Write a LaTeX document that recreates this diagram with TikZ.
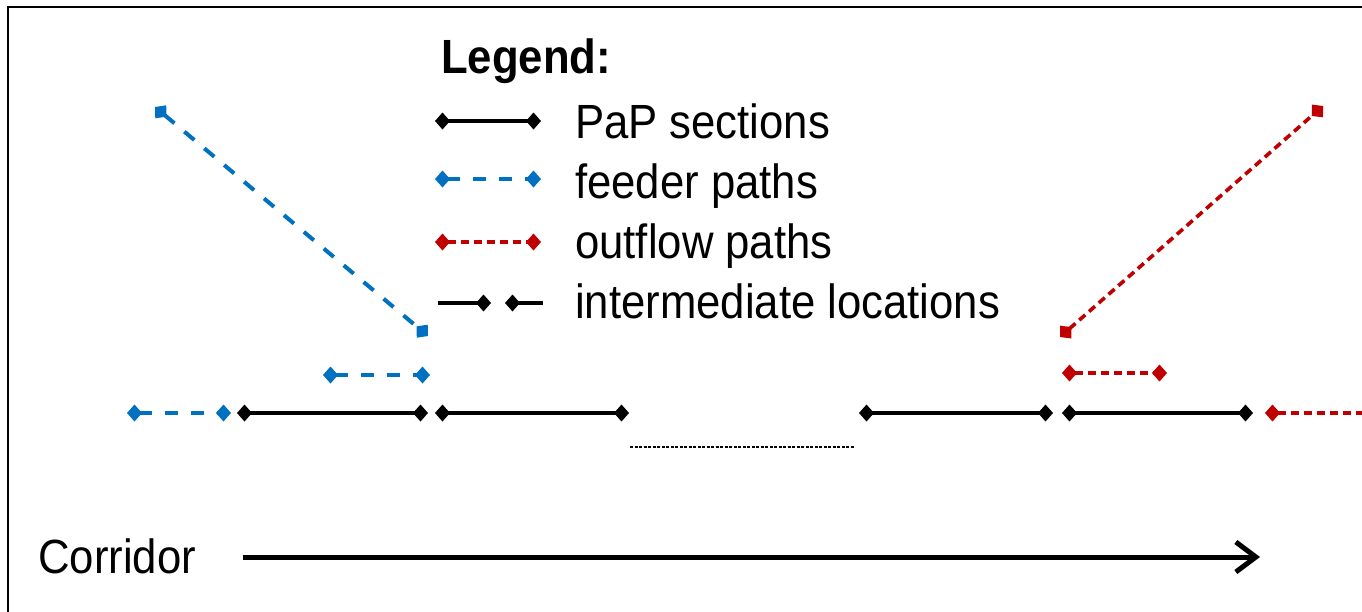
\documentclass[tikz,border=0pt]{standalone}
\usepackage{fontspec}
\setmainfont[FakeStretch=0.91]{Liberation Sans}
\usetikzlibrary{arrows.meta}
\definecolor{feederblue}{RGB}{0,112,192}
\definecolor{outflowred}{RGB}{192,0,0}
\tikzset{
  dtip/.tip={Diamond[length=15pt,width=17pt]},
  pap/.style={line width=3.6pt, draw=black},
  feeder/.style={line width=4pt, draw=feederblue, dash pattern=on 13pt off 13pt},
  outflow/.style={line width=3.6pt, draw=outflowred, dash pattern=on 8pt off 5pt},
  both/.style={{dtip}-{dtip}},
  lbl/.style={inner sep=0pt, anchor=base west, font=\fontsize{48}{58}\selectfont},
}
\begin{document}
\begin{tikzpicture}[x=1pt,y=-1pt]
  \useasboundingbox (0,0) rectangle (1362,611);
  \clip (0,0) rectangle (1362,611);
  \fill[white] (0,0) rectangle (1362,611);
  % frame
  \draw[line width=2.2pt] (8,7) rectangle (1400,660);

  % legend
  \node[lbl, font=\fontsize{48}{58}\selectfont\bfseries] (leg) at (441,73) {Legend:};
  \coordinate (lpa) at (435,121); \coordinate (lpb) at (541,121);
  \coordinate (lfa) at (435,179); \coordinate (lfb) at (541,179);
  \coordinate (loa) at (435,242); \coordinate (lob) at (541,242);
  \coordinate (lia) at (438,303); \coordinate (lib) at (491,303);
  \coordinate (lic) at (505,303); \coordinate (lid) at (543,303);
  \draw[pap, both] (lpa) -- (lpb);
  \draw[feeder, both] (lfa) -- (lfb);
  \draw[outflow, both] (loa) -- (lob);
  \draw[pap, -{dtip}] (lia) -- (lib);
  \draw[pap, {dtip}-] (lic) -- (lid);
  \node[lbl] (tpap) at (575,138) {PaP sections};
  \node[lbl] (tfeed) at (575,198) {feeder paths};
  \node[lbl] (tout) at (575,258) {outflow paths};
  \node[lbl] (tint) at (575,318) {intermediate locations};

  % feeder paths
  \coordinate (fa) at (155,107); \coordinate (fb) at (428,336);
  \coordinate (fc) at (323,375); \coordinate (fd) at (430,375);
  \coordinate (fe) at (127,413); \coordinate (ff) at (231,413);
  \draw[feeder, both] (fa) -- (fb);
  \draw[feeder, both] (fc) -- (fd);
  \draw[feeder, both] (fe) -- (ff);

  % PaP sections
  \coordinate (p1) at (237,413); \coordinate (p2) at (428,413);
  \coordinate (p3) at (435,413); \coordinate (p4) at (629,413);
  \coordinate (p5) at (859,413); \coordinate (p6) at (1053,413);
  \coordinate (p7) at (1062,413); \coordinate (p8) at (1253,413);
  \draw[pap, both] (p1) -- (p2);
  \draw[pap, both] (p3) -- (p4);
  \draw[pap, both] (p5) -- (p6);
  \draw[pap, both] (p7) -- (p8);

  % gap in the corridor
  \coordinate (ga) at (630,447); \coordinate (gb) at (854,447);
  \draw[line width=1.3pt, dash pattern=on 3pt off 1.5pt] (ga) -- (gb);

  % outflow paths
  \coordinate (oa) at (1060,337); \coordinate (ob) at (1323,106);
  \coordinate (oc) at (1062,373); \coordinate (od) at (1167,373);
  \coordinate (oe) at (1265,413); \coordinate (of) at (1420,413);
  \draw[outflow, both] (oa) -- (ob);
  \draw[outflow, both] (oc) -- (od);
  \draw[outflow, {dtip}-] (oe) -- (of);

  % corridor direction
  \node[lbl] (cor) at (38,573) {Corridor};
  \coordinate (ca) at (243,557); \coordinate (cb) at (1260,557);
  \draw[line width=5pt, -{Straight Barb[length=20pt,width=30pt]}] (ca) -- (cb);
\end{tikzpicture}
\end{document}
